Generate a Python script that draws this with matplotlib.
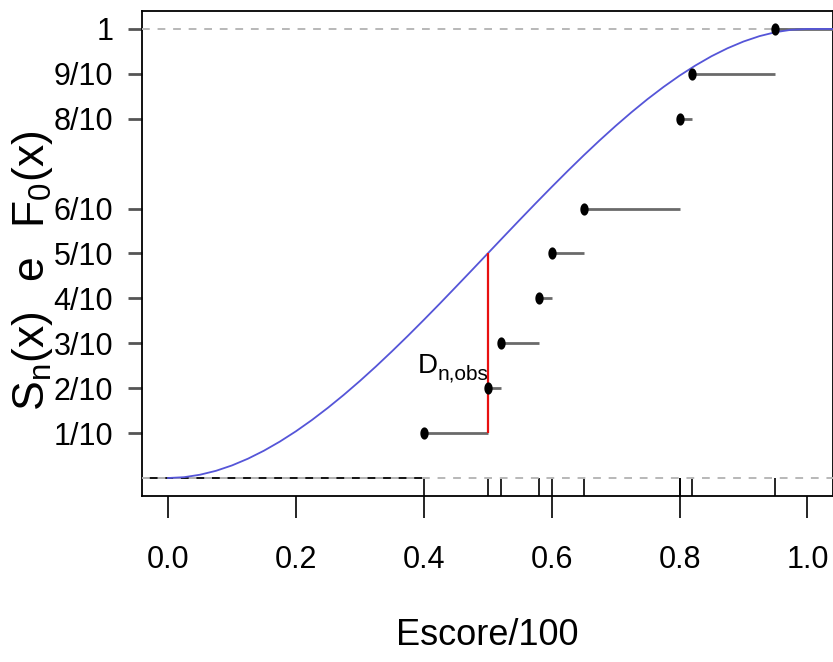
import numpy as np
import matplotlib
matplotlib.use('Agg')
import matplotlib.pyplot as plt
from matplotlib.path import Path

# escores observados (divididos por 100)
escore = [0.40, 0.50, 0.52, 0.58, 0.60, 0.65, 0.80, 0.80, 0.82, 0.95]

# F0(x)
f0_x = [0.000, 0.025, 0.050, 0.075, 0.100, 0.125, 0.150, 0.175, 0.200, 0.225,
        0.250, 0.275, 0.300, 0.325, 0.350, 0.375, 0.400, 0.425, 0.450, 0.475,
        0.500, 0.525, 0.550, 0.575, 0.600, 0.625, 0.650, 0.675, 0.700, 0.725,
        0.750, 0.775, 0.800, 0.825, 0.850, 0.875, 0.900, 0.925, 0.950, 0.975,
        1.000, 1.050]
f0_y = [0.0000, 0.0018, 0.0073, 0.0160, 0.0280, 0.0430, 0.0608, 0.0812, 0.1040, 0.1291,
        0.1563, 0.1853, 0.2160, 0.2482, 0.2818, 0.3164, 0.3520, 0.3883, 0.4253, 0.4625,
        0.5000, 0.5375, 0.5748, 0.6117, 0.6480, 0.6836, 0.7183, 0.7518, 0.7840, 0.8147,
        0.8438, 0.8709, 0.8960, 0.9188, 0.9393, 0.9570, 0.9720, 0.9840, 0.9928, 0.9982,
        1.0000, 1.0000]

# estatistica D observada
d_x = 0.50
d_low = 0.10
d_high = 0.50

y_ticks = [0.1, 0.2, 0.3, 0.4, 0.5, 0.6, 0.8, 0.9, 1.0]
y_labels = ['1/10', '2/10', '3/10', '4/10', '5/10', '6/10', '8/10', '9/10', '1']
x_ticks = [0.0, 0.2, 0.4, 0.6, 0.8, 1.0]
x_labels = ['0.0', '0.2', '0.4', '0.6', '0.8', '1.0']

plt.rcParams['font.family'] = ['Liberation Sans', 'DejaVu Sans']

# Sn(x)
xs = np.array(escore)
ux, cnt = np.unique(xs, return_counts=True)
sn = np.cumsum(cnt) / len(xs)

fig = plt.figure(figsize=(8.33, 6.62), dpi=100)
ax = fig.add_axes([0.171, 0.2508, 0.829, 0.7326])
ax.set_xlim(-0.04, 1.04)
ax.set_ylim(-0.04, 1.04)
xmin, xmax = ax.get_xlim()

# linhas tracejadas em 0 e 1
ax.hlines([0], xmin, ux[0], color='black', lw=1.3, zorder=2)
ax.axhline(0, color='#b8b8b8', ls=(0, (4, 4)), lw=1.4, zorder=3)
ax.axhline(1, color='#b8b8b8', ls=(0, (4, 4)), lw=1.4, zorder=3)

# degraus
x_next = np.append(ux[1:], xmax)
ax.hlines(sn, ux, x_next, color='#6a6a6a', lw=2.0, zorder=4)

# F0
ax.plot(f0_x, f0_y, color='#5555d8', lw=1.3, zorder=5)

# D_n,obs
ax.vlines(d_x, d_low, d_high, color='#e81010', lw=1.6, zorder=6)

# pontos (ovais como no original)
t = np.linspace(0, 2 * np.pi, 41)
oval = Path(np.column_stack([0.68 * np.cos(t), np.sin(t)]))
ax.plot(ux, sn, ls='none', marker=oval, ms=8.8, mew=0, color='black', zorder=7)

tD = ax.text(0.39, 0.234, 'D', fontsize=20, ha='left', va='baseline', zorder=8)
ax.annotate('n,obs', xy=(1, 0), xycoords=tD, xytext=(0, -1),
            textcoords='offset pixels', fontsize=15, ha='left', va='baseline')

# eixos
ax.set_xticks(x_ticks)
ax.set_xticklabels(x_labels)
ax.set_yticks(y_ticks)
ax.set_yticklabels(y_labels)
ax.set_xticks(escore, minor=True)
ax.xaxis.remove_overlapping_locs = False
ax.tick_params(axis='x', which='major', direction='out', length=16, width=1.2,
               pad=19, labelsize=22)
ax.tick_params(axis='x', which='minor', direction='in', length=13, width=1.2)
ax.tick_params(axis='y', which='major', direction='out', length=10, width=2.0,
               color='#555555', pad=11, labelsize=22)
for s in ax.spines.values():
    s.set_linewidth(1.3)

ax.set_xlabel('Escore/100', fontsize=26, va='top')
ax.xaxis.set_label_coords(0.5, -0.252)
ax.set_ylabel(r'$\mathregular{S_n(x)\ \ e\ \ F_0(x)}$', fontsize=32)
ax.yaxis.set_label_coords(-0.127, 0.465)

fig.savefig('out.png', dpi=100)
